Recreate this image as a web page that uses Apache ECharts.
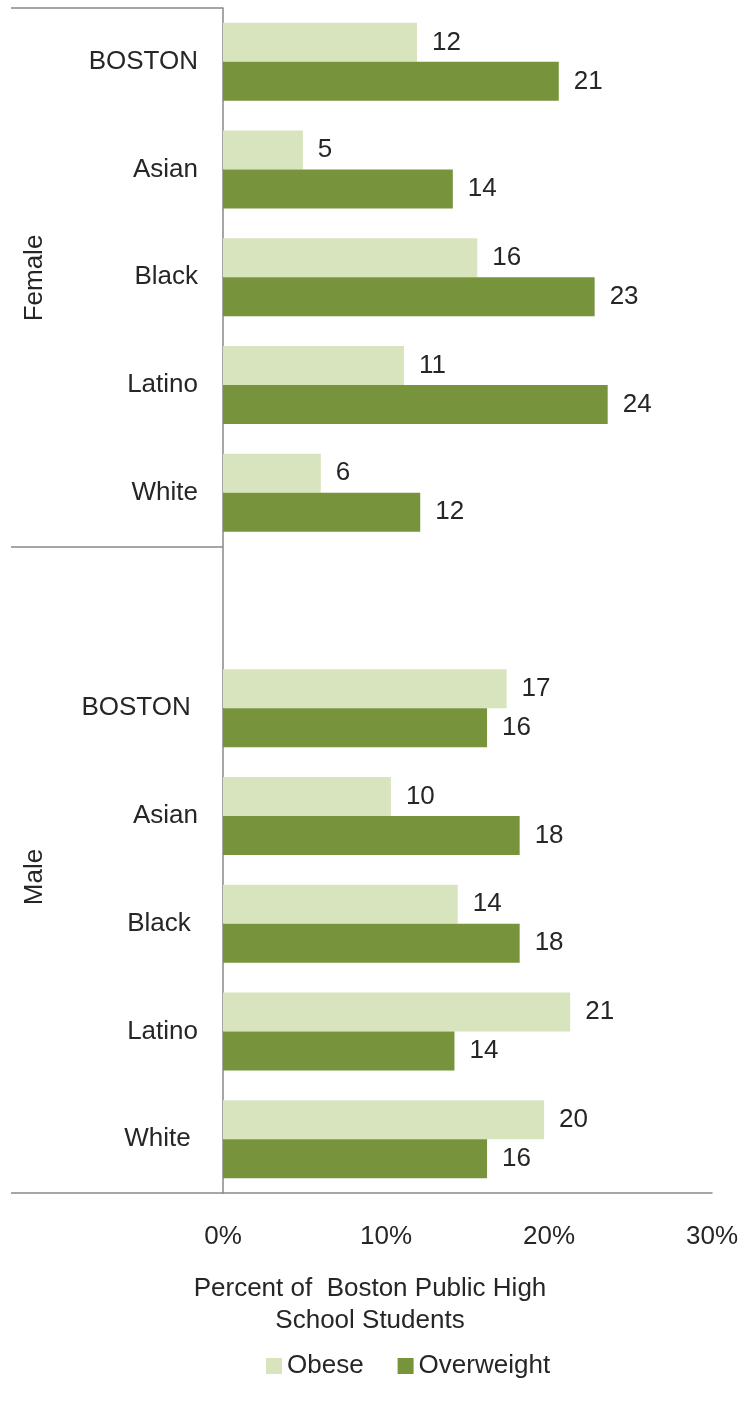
<!DOCTYPE html>
<html>
<head>
<meta charset="utf-8">
<script src="https://cdn.jsdelivr.net/npm/echarts@6/dist/echarts.min.js"></script>
<style>
html,body{margin:0;padding:0;background:#fff;}
#chart{width:746px;height:1406px;}
</style>
</head>
<body>
<div id="chart"></div>
<script>
const categoryKeys = ['F-BOSTON','F-Asian','F-Black','F-Latino','F-White','gap','M-BOSTON','M-Asian','M-Black','M-Latino','M-White'];
const categoryLabels = ['BOSTON','Asian','Black','Latino','White','','BOSTON ','Asian','Black ','Latino','White '];
const obese = [11.9, 4.9, 15.6, 11.1, 6.0, null, 17.4, 10.3, 14.4, 21.3, 19.7];
const overweight = [20.6, 14.1, 22.8, 23.6, 12.1, null, 16.2, 18.2, 18.2, 14.2, 16.2];
const seriesNames = ['Obese', 'Overweight'];
const groupLabels = ['Female', 'Male'];
const xTicks = [0, 10, 20, 30];
const axisTitle = 'Percent of  Boston Public High\nSchool Students';

const FONT = 'Liberation Sans, Arial, sans-serif';
const FS = 26;
const TXT = '#262626';
const chart = echarts.init(document.getElementById('chart'), null, {renderer: 'canvas'});

const labelCfg = {
  show: true, position: 'right', distance: 15,
  fontFamily: FONT, fontSize: FS, color: TXT,
  formatter: p => p.value == null ? '' : String(Math.round(p.value))
};

chart.setOption({
  animation: false,
  grid: {left: 223, right: 34, top: 8, bottom: 213, containLabel: false},
  xAxis: {
    type: 'value', min: xTicks[0], max: xTicks[xTicks.length - 1], interval: 10,
    axisLine: {show: true, lineStyle: {color: '#898989', width: 1.5}},
    axisTick: {show: false},
    splitLine: {show: false},
    axisLabel: {fontFamily: FONT, fontSize: FS, color: TXT, margin: 31, formatter: v => v + '%'}
  },
  yAxis: {
    type: 'category', inverse: true, data: categoryKeys,
    axisLine: {show: true, lineStyle: {color: '#898989', width: 1.5}},
    axisTick: {
      show: true, length: 212, inside: false,
      interval: (idx) => idx === 0 || idx === 5,
      lineStyle: {color: '#898989', width: 1.5}
    },
    axisLabel: {
      fontFamily: FONT, fontSize: FS, color: TXT, margin: 25,
      formatter: (v) => categoryLabels[categoryKeys.indexOf(v)]
    }
  },
  legend: {
    data: seriesNames, left: 261, top: 1348,
    icon: 'rect', itemWidth: 16, itemHeight: 16, itemGap: 34,
    textStyle: {fontFamily: FONT, fontSize: FS, color: TXT}
  },
  graphic: [
    {type: 'text', rotation: Math.PI / 2, x: 35, y: 278, style: {text: groupLabels[0], font: FS + 'px ' + FONT, fill: TXT, textAlign: 'center', textVerticalAlign: 'middle'}},
    {type: 'text', rotation: Math.PI / 2, x: 35, y: 877, style: {text: groupLabels[1], font: FS + 'px ' + FONT, fill: TXT, textAlign: 'center', textVerticalAlign: 'middle'}},
    {type: 'text', x: 370, y: 1273, style: {text: axisTitle, font: FS + 'px ' + FONT, fill: TXT, textAlign: 'center', lineHeight: 32}}
  ],
  series: [
    {name: seriesNames[0], type: 'bar', data: obese, barWidth: 39, barGap: '0%',
     itemStyle: {color: '#d7e4bd'}, label: labelCfg},
    {name: seriesNames[1], type: 'bar', data: overweight, barWidth: 39, barGap: '0%',
     itemStyle: {color: '#77933c'}, label: labelCfg}
  ]
});
</script>
</body>
</html>
